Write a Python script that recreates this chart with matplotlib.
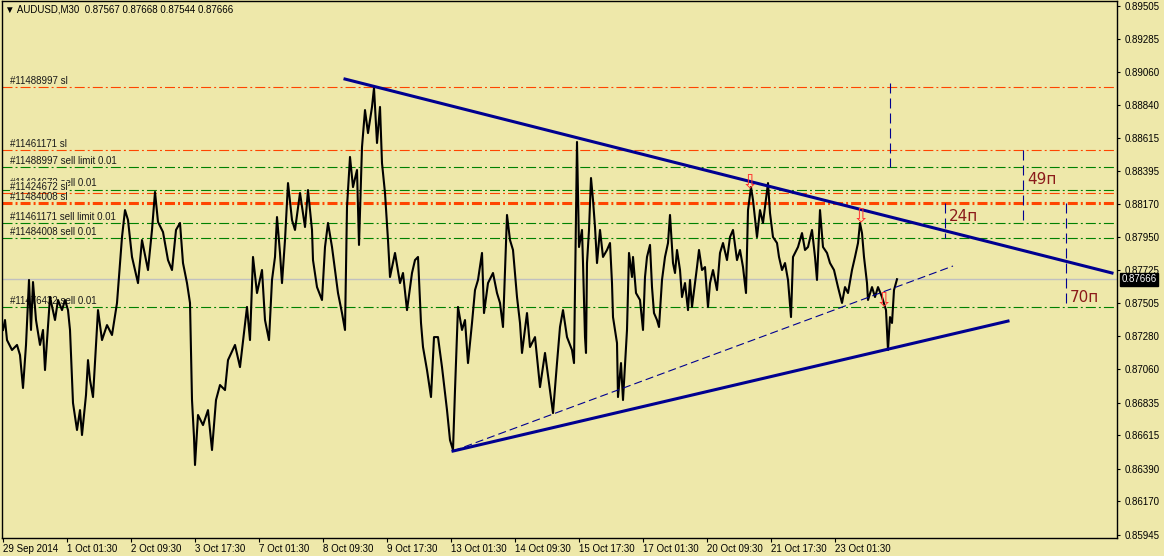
import matplotlib
matplotlib.use("Agg")
import matplotlib.pyplot as plt

# ---------------- data ----------------
# price path: (bar number, price) pivots, one bar = one M30 candle
week1 = [(0, 0.87324), (2, 0.87391), (4, 0.87256), (9, 0.87189), (14, 0.87223), (17, 0.87155),
         (20, 0.86933), (23, 0.87223), (26, 0.87661), (28, 0.87324), (30, 0.87647), (33, 0.87391),
         (37, 0.87223), (40, 0.87324), (42, 0.87054), (47, 0.87546), (52, 0.87391), (55, 0.87526),
         (59, 0.87458), (62, 0.87526), (65, 0.87458), (67, 0.87324), (70, 0.86832), (74, 0.86650),
         (77, 0.86784), (79, 0.86616), (83, 0.86886), (85, 0.87121), (87, 0.86987), (90, 0.86872),
         (95, 0.87458), (99, 0.87256), (104, 0.87357), (109, 0.87290), (114, 0.87506), (117, 0.87775),
         (119, 0.87950), (122, 0.88132), (125, 0.88065), (129, 0.87816), (135, 0.87640), (139, 0.87930),
         (143, 0.87795), (145, 0.87728), (149, 0.87998), (152, 0.88254), (155, 0.88052), (160, 0.87984),
         (165, 0.87795), (169, 0.87728), (173, 0.87998), (177, 0.88045), (180, 0.87775), (184, 0.87640),
         (187, 0.87506), (189, 0.86852), (191, 0.86602), (192, 0.86414), (195, 0.86751), (200, 0.86683),
         (205, 0.86784), (209, 0.86515), (213, 0.86852), (217, 0.86953), (222, 0.86919), (225, 0.87121)]
week2 = [(232, 0.87223), (237, 0.87074), (244, 0.87479), (247, 0.87256), (250, 0.87816), (254, 0.87573),
         (259, 0.87728), (262, 0.87391), (266, 0.87256), (269, 0.87661), (272, 0.87816), (274, 0.88085),
         (277, 0.87843), (279, 0.87640), (282, 0.87930), (285, 0.88314), (289, 0.88065), (292, 0.87998),
         (297, 0.88247), (302, 0.88018), (305, 0.88267), (309, 0.87998), (310, 0.87795), (314, 0.87613),
         (319, 0.87526), (322, 0.87883), (325, 0.88045), (329, 0.87883), (332, 0.87728), (335, 0.87573),
         (339, 0.87438), (342, 0.87324), (344, 0.88153), (347, 0.88490), (350, 0.88287), (354, 0.88402),
         (356, 0.87897), (359, 0.88557), (362, 0.88806), (365, 0.88651), (369, 0.88827), (371, 0.88955),
         (374, 0.88584), (377, 0.88827), (379, 0.88449), (382, 0.88247), (385, 0.87930), (387, 0.87681),
         (392, 0.87843), (397, 0.87640), (400, 0.87708), (404, 0.87458), (409, 0.87708), (412, 0.87795),
         (415, 0.87816), (418, 0.87371), (420, 0.87209), (424, 0.87054), (428, 0.86872), (431, 0.87276),
         (435, 0.87276), (439, 0.87074), (444, 0.86784), (447, 0.86582), (450, 0.86515)]
week3 = [(452, 0.86919), (455, 0.87479), (459, 0.87324), (462, 0.87391), (465, 0.87101), (469, 0.87371),
         (472, 0.87593), (475, 0.87661), (479, 0.87843), (481, 0.87438), (485, 0.87640), (490, 0.87708),
         (494, 0.87573), (497, 0.87506), (500, 0.87344), (504, 0.88099), (507, 0.87930), (510, 0.87863),
         (514, 0.87546), (517, 0.87371), (519, 0.87169), (524, 0.87438), (527, 0.87209), (532, 0.87276),
         (537, 0.86939), (542, 0.87169), (547, 0.86919), (550, 0.86764), (554, 0.87101), (557, 0.87344),
         (560, 0.87458), (564, 0.87276), (569, 0.87189), (571, 0.87101), (573, 0.88065), (574, 0.88591),
         (576, 0.87883), (579, 0.87998), (580, 0.87775), (582, 0.87276), (583, 0.87169), (584, 0.87775),
         (586, 0.87998), (588, 0.88348), (590, 0.88200), (592, 0.88018), (594, 0.87775), (597, 0.87998),
         (600, 0.87816), (604, 0.87863), (607, 0.87910), (609, 0.87640), (610, 0.87411), (614, 0.87236),
         (615, 0.86872), (618, 0.87101), (620, 0.86852), (624, 0.87324), (626, 0.87843), (629, 0.87681),
         (630, 0.87816), (633, 0.87573), (637, 0.87526), (640, 0.87324), (642, 0.87681), (644, 0.87816),
         (647, 0.87897), (649, 0.87613), (651, 0.87438), (654, 0.87391), (656, 0.87344), (659, 0.87661),
         (662, 0.87816), (665, 0.87910), (667, 0.88099), (670, 0.87775), (672, 0.87708), (674, 0.87863),
         (677, 0.87728)]
week4 = [(679, 0.87546), (682, 0.87640), (685, 0.87458), (687, 0.87661), (689, 0.87479), (694, 0.87748),
         (696, 0.87863), (699, 0.87728), (702, 0.87748), (705, 0.87479), (707, 0.87640), (710, 0.87728),
         (714, 0.87593), (717, 0.87843), (720, 0.87910), (724, 0.87795), (727, 0.87950), (730, 0.87998),
         (734, 0.87795), (737, 0.87863), (740, 0.87748), (743, 0.87573), (745, 0.88132), (748, 0.88287),
         (750, 0.88200), (754, 0.87950), (757, 0.88132), (760, 0.88045), (765, 0.88314), (767, 0.88112),
         (770, 0.87950), (774, 0.87910), (776, 0.87816), (779, 0.87728), (782, 0.87775), (785, 0.87661),
         (788, 0.87411), (790, 0.87816), (795, 0.87883), (799, 0.87977), (802, 0.87863), (805, 0.87883),
         (809, 0.87998), (812, 0.87816), (814, 0.87661), (817, 0.88132), (820, 0.87883), (824, 0.87843),
         (827, 0.87775), (831, 0.87728), (835, 0.87613), (839, 0.87506), (842, 0.87613), (845, 0.87573),
         (849, 0.87728), (852, 0.87816), (855, 0.87910), (857, 0.88045), (859, 0.87977), (861, 0.87816),
         (864, 0.87640), (865, 0.87526), (869, 0.87613), (872, 0.87546), (875, 0.87613), (879, 0.87546),
         (883, 0.87458), (885, 0.87189), (887, 0.87411), (889, 0.87371), (891, 0.87593), (894, 0.87666)]

# order lines: label, price, kind
order_labels = ["#11488997 sl", "#11461171 sl", "#11488997 sell limit 0.01", "#11424672 sell 0.01",
                "#11424672 sl", "#11484008 sl", "#11461171 sell limit 0.01", "#11484008 sell 0.01",
                "#11476432 sell 0.01"]
order_prices = [0.88963, 0.88537, 0.88420, 0.88267, 0.88249, 0.88183, 0.88044, 0.87943, 0.87479]
order_kinds = ["sl", "sl", "order", "order", "sl", "sl_thick", "order", "order", "order"]

# trend lines: (bar1, price1, bar2, price2)
upper_trend = (342, 0.89015, 1109, 0.87708)
lower_trend = (450, 0.86508, 1005, 0.87384)
dash_trend = (450, 0.86508, 950, 0.87755)

# vertical measurements: bar, price from, price to, label
measure_bars = [887, 942, 1020, 1063]
measure_from = [0.88990, 0.88183, 0.88537, 0.88183]
measure_to = [0.88422, 0.87943, 0.88044, 0.87479]
measure_text = ["", "24п", "49п", "70п"]
measure_text_price = [0, 0.88092, 0.88338, 0.87540]

# fractal arrows
arrow_bars = [747, 858, 881]
arrow_prices = [0.88314, 0.88085, 0.87519]

last_price = 0.87666
y_ticks = [0.89505, 0.89285, 0.89060, 0.88840, 0.88615, 0.88395, 0.88170, 0.87950, 0.87725,
           0.87505, 0.87280, 0.87060, 0.86835, 0.86615, 0.86390, 0.86170, 0.85945]
x_ticks = [0, 64, 128, 192, 256, 320, 384, 448, 512, 576, 640, 704, 768, 832]
x_labels = ["29 Sep 2014", "1 Oct 01:30", "2 Oct 09:30", "3 Oct 17:30", "7 Oct 01:30",
            "8 Oct 09:30", "9 Oct 17:30", "13 Oct 01:30", "14 Oct 09:30", "15 Oct 17:30",
            "17 Oct 01:30", "20 Oct 09:30", "21 Oct 17:30", "23 Oct 01:30"]

# ---------------- drawing ----------------
BG = "#EEE8AA"
ORANGE = "#FF4500"
GREEN = "#008000"
NAVY = "#000090"
FONT = ["Liberation Sans", "DejaVu Sans"]

plt.rcParams["font.family"] = FONT
plt.rcParams["lines.scale_dashes"] = False

fig = plt.figure(figsize=(11.64, 5.56), dpi=100, facecolor=BG)
ax = fig.add_axes([2 / 1164, 18 / 556, 1115 / 1164, 537 / 556], facecolor=BG)
ax.set_xlim(-1, 1114)
ax.set_ylim(0.85922, 0.89541)

# current price line
ax.axhline(last_price, color="#C0C0C0", lw=1, zorder=1)

# order lines with labels
dashdot = (0, (7.2, 2.2, 1.4, 2.2))
for lab, p, kind in zip(order_labels, order_prices, order_kinds):
    col = GREEN if kind == "order" else ORANGE
    lw = 2.2 if kind == "sl_thick" else 0.8
    ax.axhline(p, color=col, lw=lw, linestyle=dashdot, zorder=2)
    if lab == "#11424672 sl":
        # the sl label is drawn over the start of the sell label, like in the terminal
        ax.annotate(lab, xy=(7, p), xytext=(0, 4.3), textcoords="offset points",
                    fontsize=7, color="#1a1a1a", va="center", ha="left", zorder=3.5,
                    bbox=dict(facecolor=BG, edgecolor="none", pad=0.3))
    else:
        dy = 5.0 if lab == "#11424672 sell 0.01" else 4.3
        ax.annotate(lab, xy=(7, p), xytext=(0, dy), textcoords="offset points",
                    fontsize=7, color="#1a1a1a", va="center", ha="left", zorder=3)

# price path
path = week1 + week2 + week3 + week4
ax.plot([b for b, _ in path], [p for _, p in path], color="black", lw=1.5, zorder=4)

# trend lines
for tl, lw, ls in [(upper_trend, 2.2, "-"), (lower_trend, 2.2, "-"), (dash_trend, 0.8, (0, (5.8, 2.9)))]:
    ax.plot([tl[0], tl[2]], [tl[1], tl[3]], color=NAVY, lw=lw, linestyle=ls, zorder=5)

# measurement lines
for b, p1, p2, t, tp in zip(measure_bars, measure_from, measure_to, measure_text, measure_text_price):
    ax.plot([b, b], [p1, p2], color=NAVY, lw=0.8, linestyle=(0, (7.2, 3.6)), zorder=5)
    if t:
        ax.text(b + 4, tp, t, fontsize=11, color="#8B1A1A", va="center", ha="left",
                family="DejaVu Sans", zorder=6)

# fractal arrows
for b, p in zip(arrow_bars, arrow_prices):
    ax.text(b, p, "⇩", fontsize=14, color="#FF3030", ha="center", va="center",
            family="DejaVu Sans", zorder=6)

# axes look like the MT4 terminal
for s in ax.spines.values():
    s.set_color("black")
    s.set_linewidth(1)
ax.yaxis.tick_right()
ax.set_yticks(y_ticks)
ax.set_yticklabels([f"{v:.5f}" for v in y_ticks])
ax.tick_params(axis="y", direction="out", length=2.5, width=0.8, pad=3, labelsize=7)
ax.set_xticks(x_ticks)
ax.set_xticklabels(x_labels)
ax.tick_params(axis="x", direction="out", length=3, width=0.8, pad=1.5, labelsize=7)
for lbl in ax.get_xticklabels():
    lbl.set_ha("left")

# last price box
ax.text(1.004, last_price, f"{last_price:.5f}", transform=ax.get_yaxis_transform(),
        fontsize=7, color="white", ha="left", va="center", zorder=10, clip_on=False,
        bbox=dict(facecolor="black", edgecolor="black", pad=1.2))

# header
fig.text(5 / 1164, 1 - 9 / 556, "▼ AUDUSD,M30  0.87567 0.87668 0.87544 0.87666",
         fontsize=7, color="black", va="center", ha="left", family=FONT)

fig.savefig("out.png", dpi=100, facecolor=BG)
